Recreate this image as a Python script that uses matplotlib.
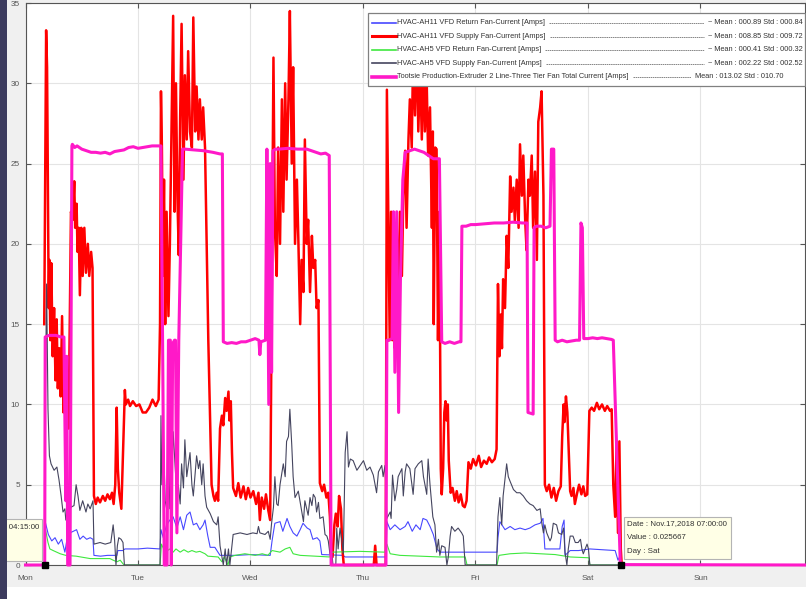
import matplotlib
matplotlib.use('Agg')
import matplotlib.pyplot as plt
from matplotlib.patches import Rectangle
from matplotlib.lines import Line2D

plt.rcParams['font.family'] = ['Liberation Sans', 'DejaVu Sans']

# ---------------- data (time in hours since Mon 00:00, value in Amps) ----------------
day_labels = ["Mon", "Tue", "Wed", "Thu", "Fri", "Sat", "Sun"]
day_ticks = [0, 24, 48, 72, 96, 120, 144]

ah11_return = [(4.2, 2.7), (4.87, 1.9), (5.6, 1.5), (6.3, 1.7), (7.0, 1.3), (7.7, 1.6), (8.4, 0.8), (8.85, 1.6),
               (9.5, 2.0), (10.2, 2.1), (10.9, 2.2), (11.6, 1.6), (12.3, 1.8), (13.05, 1.6), (13.8, 1.7), (14.4, 1.6),
               (14.6, 0.6), (16.0, 0.55), (17.5, 0.6), (19.5, 0.6), (19.7, 0.9), (20.8, 0.9), (21.2, 1.0), (24.0, 1.0),
               (26.0, 1.05), (28.7, 1.0), (28.9, 2.2), (29.4, 1.7), (30.1, 2.5), (30.8, 2.8), (31.5, 3.0), (32.3, 2.3),
               (33.0, 3.0), (33.7, 2.2), (34.4, 3.1), (35.1, 3.3), (35.8, 2.5), (36.5, 2.6), (37.2, 2.2), (37.9, 2.5),
               (38.3, 2.8), (38.9, 1.8), (39.4, 1.1), (40.4, 1.1), (41.5, 0.6), (45.0, 0.6), (48.0, 0.65), (52.2, 0.6),
               (52.6, 1.5), (53.2, 2.6), (54.3, 2.7), (54.9, 2.1), (55.8, 2.9), (56.4, 2.4), (57.1, 2.0), (57.9, 1.8),
               (58.6, 2.2), (59.2, 2.6), (60.1, 2.3), (60.7, 2.2), (61.3, 1.6), (62.2, 1.7), (62.8, 1.5), (63.2, 0.65),
               (67.7, 0.6), (68.2, 0.5), (76.9, 0.5), (77.1, 2.7), (77.8, 2.2), (78.8, 2.5), (79.9, 2.2), (81.0, 2.4),
               (81.6, 2.7), (82.5, 2.1), (83.3, 2.5), (84.2, 2.2), (84.8, 2.9), (85.6, 2.8), (86.3, 2.4), (87.0, 1.9),
               (87.8, 1.0), (88.4, 0.8), (94.0, 0.8), (100.6, 0.8), (100.8, 1.7), (101.2, 2.7), (102.3, 2.2),
               (103.4, 2.4), (104.4, 2.2), (105.5, 2.3), (106.6, 2.2), (107.6, 2.3), (108.7, 2.5), (109.8, 2.6),
               (110.4, 2.9), (110.8, 1.0), (114.0, 1.0), (114.5, 2.4), (114.9, 2.8), (115.1, 0.6), (116.2, 0.9),
               (118.0, 0.9), (120.4, 1.0), (125.8, 0.9), (126.4, 0.3), (126.9, 0.6), (127.2, 0.0)]

ah11_supply = [(4.0, 15), (4.4, 33.3), (4.6, 31), (4.7, 27), (4.95, 16), (5.1, 19), (5.3, 14), (5.5, 18.8), (5.8, 13),
               (6.1, 16), (6.4, 11.5), (6.65, 15.3), (6.9, 11), (7.2, 13.5), (7.5, 10.5), (7.8, 15.5), (8.1, 9.5),
               (8.4, 12), (8.6, 8.3), (8.9, 10), (9.2, 8.5), (9.5, 17), (9.7, 22), (10.1, 21.5), (10.4, 23.9),
               (10.6, 21), (10.9, 22.5), (11.1, 19.5), (11.35, 21), (11.6, 16.8), (11.9, 21), (12.2, 18), (12.55, 21),
               (12.9, 18.2), (13.3, 20), (13.6, 18), (14.0, 19.5), (14.3, 18.5), (14.6, 4.3), (15.0, 3.8), (15.4, 4.2),
               (15.9, 3.9), (16.5, 4.3), (17.0, 4.0), (17.5, 4.4), (18.0, 4.1), (18.45, 4.5), (18.8, 3.8), (19.15, 5),
               (19.45, 9.8), (19.7, 6), (20.0, 4.5), (20.45, 3.5), (20.9, 8), (21.2, 10.9), (21.4, 10), (21.9, 10.3),
               (22.3, 9.9), (22.9, 10.2), (23.6, 9.9), (24.3, 10.0), (25.0, 9.5), (25.7, 9.5), (26.4, 9.8), (27.1, 10.3),
               (27.8, 9.9), (28.4, 10.3), (28.7, 15), (28.9, 29.5), (29.1, 26), (29.3, 18), (29.55, 24), (29.8, 15),
               (30.1, 22), (30.5, 15.5), (30.8, 20), (31.2, 28), (31.5, 34.2), (31.8, 22), (32.1, 30), (32.4, 23),
               (32.7, 19.3), (33.0, 28), (33.3, 33.7), (33.7, 24), (34.0, 30.5), (34.4, 26.5), (34.7, 32), (35.1, 27),
               (35.5, 26), (35.8, 34.1), (36.2, 27), (36.5, 29.8), (36.9, 26.5), (37.2, 29), (37.6, 26.5), (37.9, 28.5),
               (38.3, 26), (38.65, 20), (39.0, 14), (39.4, 9), (39.7, 5), (40.1, 4.3), (40.4, 4.0), (40.8, 4.5),
               (41.1, 4.0), (41.5, 8.5), (41.9, 9.3), (42.2, 8.7), (42.6, 10.4), (42.9, 9.6), (43.3, 10.8), (43.5, 9.0),
               (43.8, 10.2), (44.05, 7), (44.3, 4.8), (44.9, 4.3), (45.4, 5.1), (45.9, 4.2), (46.5, 4.9), (47.0, 4.1),
               (47.5, 4.8), (48.0, 4.2), (48.6, 4.6), (49.2, 3.8), (49.7, 4.5), (50.0, 2.8), (50.4, 4.2), (50.9, 3.5),
               (51.3, 4.4), (51.8, 3.4), (52.2, 2.8), (52.5, 15), (52.9, 31.6), (53.2, 21), (53.6, 18), (53.9, 26),
               (54.3, 20), (54.7, 29), (55.0, 22), (55.4, 30), (55.7, 24), (56.1, 29), (56.4, 34.5), (56.8, 25),
               (57.1, 31), (57.5, 20), (57.9, 24), (58.2, 20.4), (58.6, 15), (58.9, 19), (59.3, 17), (59.6, 26.5),
               (60.0, 20), (60.3, 21.5), (60.7, 17), (61.1, 20.5), (61.4, 18.5), (61.8, 19), (62.1, 16), (62.5, 16.5),
               (62.8, 5.1), (63.3, 4.6), (63.7, 5), (64.2, 4.2), (64.6, 4.5), (64.95, 3), (65.2, 0.5), (65.5, 0.5),
               (65.9, 2.5), (66.2, 3.2), (66.6, 2.4), (66.9, 4.3), (67.3, 3.5), (67.6, 1), (67.9, 0), (74.3, 0),
               (74.6, 1.2), (74.9, 0), (76.85, 0), (77.1, 29.6), (77.4, 22), (77.7, 14), (78.0, 22), (78.25, 14),
               (78.6, 18), (78.8, 13.5), (79.2, 21), (79.5, 16), (79.9, 22), (80.3, 18), (80.6, 23), (81.0, 25.8),
               (81.3, 21), (81.7, 26.5), (82.0, 29), (82.4, 26), (82.7, 32), (83.1, 28), (83.5, 33), (83.8, 27),
               (84.2, 31), (84.55, 26.5), (84.9, 32), (85.2, 27), (85.6, 30), (85.9, 25.5), (86.3, 28.5), (86.7, 21),
               (86.9, 27), (87.1, 15), (87.4, 26), (87.7, 25.9), (88.0, 14), (88.3, 22), (88.6, 6), (88.8, 4.4),
               (89.1, 6), (89.35, 9.5), (89.6, 10.2), (89.85, 9.0), (90.1, 10.0), (90.3, 6.5), (90.7, 4.5), (91.1, 4.8),
               (91.6, 4.0), (92.0, 4.6), (92.4, 3.9), (92.85, 4.4), (93.3, 3.7), (93.7, 3.6), (94.1, 4.0), (94.5, 6.4),
               (95.0, 6.0), (95.5, 6.6), (96.1, 6.2), (96.7, 6.8), (97.2, 6.1), (97.8, 6.5), (98.4, 6.3), (98.9, 6.7),
               (99.5, 6.4), (100.1, 6.6), (100.5, 7.2), (100.8, 17.5), (101.1, 13), (101.4, 15.6), (101.65, 13.5),
               (101.9, 17.8), (102.3, 16), (102.65, 20.5), (103.0, 18.5), (103.4, 24.2), (103.7, 22), (104.1, 23.5),
               (104.4, 21.4), (104.8, 24), (105.2, 21), (105.5, 26.2), (105.9, 23), (106.2, 25.5), (106.6, 21.5),
               (106.9, 19.6), (107.3, 24), (107.6, 23), (108.0, 25.5), (108.3, 21), (108.7, 24.5), (109.1, 19),
               (109.4, 27.6), (109.8, 28.5), (110.1, 29.5), (110.5, 23), (110.8, 5), (111.2, 4.6), (111.7, 5.0),
               (112.2, 4.2), (112.7, 4.8), (113.2, 4.0), (113.7, 4.6), (114.2, 4.9), (114.5, 8), (114.8, 10),
               (115.0, 8.9), (115.3, 10.5), (115.6, 9.5), (115.9, 7), (116.2, 4.6), (116.5, 4.3), (116.9, 4.8),
               (117.2, 3.8), (117.7, 4.5), (118.1, 5.0), (118.6, 4.4), (119.0, 4.9), (119.4, 4.3), (119.85, 4.4),
               (120.3, 9.6), (120.8, 9.8), (121.3, 9.6), (121.9, 10.1), (122.4, 9.7), (123.0, 10.0), (123.6, 9.6),
               (124.1, 9.9), (124.7, 9.6), (125.05, 9.7), (125.4, 5), (125.8, 3), (126.1, 7.5), (126.4, 2),
               (126.7, 7.7), (127.0, 1), (127.2, 0)]

ah5_return = [(4.2, 2.3), (4.8, 1.4), (5.2, 1.0), (5.9, 0.9), (7.4, 0.7), (8.6, 0.6), (10.8, 0.55), (13.8, 0.4),
              (18.0, 0.4), (18.7, 0.3), (19.5, 0.2), (20.2, 0.3), (21.0, 0.0), (28.7, 0.0), (29.0, 1.3), (29.8, 0.8),
              (30.8, 1.0), (31.5, 0.8), (32.1, 1.0), (33.0, 0.8), (33.8, 0.95), (34.7, 0.8), (35.5, 0.9), (36.4, 0.8),
              (37.2, 0.85), (38.3, 0.7), (38.9, 0.55), (41.1, 0.5), (41.9, 0.2), (42.4, 0.5), (43.2, 0.0), (43.6, 0.5),
              (44.7, 0.6), (46.8, 0.7), (49.0, 0.6), (50.5, 0.7), (51.7, 0.6), (52.6, 0.9), (54.3, 0.8), (55.4, 1.0),
              (56.4, 1.1), (57.1, 0.7), (58.6, 0.6), (61.8, 0.55), (64.9, 0.5), (65.4, 0.8), (71.3, 0.85), (76.7, 0.8),
              (77.1, 1.3), (77.8, 0.7), (79.9, 0.6), (84.2, 0.55), (88.4, 0.5), (93.8, 0.5), (94.2, 0.0), (100.6, 0.0),
              (101.0, 0.6), (103.4, 0.7), (106.6, 0.75), (109.8, 0.7), (113.0, 0.65), (116.2, 0.5), (120.2, 0.45),
              (120.4, 0.0), (127.2, 0.0)]

ah5_supply = [(4.05, 5), (4.5, 17.5), (4.7, 12), (4.8, 9.7), (5.1, 6.8), (5.45, 6.3), (6.1, 5.9), (6.7, 6.1),
              (7.15, 5.3), (7.6, 4.3), (8.0, 3.3), (8.4, 3.5), (8.6, 2.8), (9.1, 3.2), (9.7, 3.6), (10.35, 3.7),
              (10.8, 5.0), (11.2, 4.3), (11.6, 3.4), (12.2, 4.0), (12.9, 3.3), (13.3, 3.8), (13.8, 3.5), (14.4, 4.0),
              (14.6, 1.3), (15.9, 1.4), (17.0, 1.3), (18.2, 1.4), (18.7, 2.5), (19.0, 1.6), (19.3, 0), (19.6, 1.2),
              (19.9, 1.7), (20.4, 1.6), (20.8, 1.4), (21.1, 0), (28.7, 0), (28.9, 9.3), (29.1, 5), (29.4, 8.1),
              (29.8, 4), (30.1, 3.5), (30.5, 7.3), (30.8, 3.5), (31.2, 5.4), (31.5, 8.3), (32.25, 4.5), (32.6, 5),
              (33.0, 3.8), (33.3, 6.3), (33.7, 4.8), (34.0, 7.8), (34.4, 5.5), (35.1, 7), (35.5, 5), (35.8, 4.3),
              (36.5, 6.8), (36.9, 6), (37.2, 6.5), (37.6, 5), (37.9, 6.3), (38.3, 4.3), (38.65, 3.6), (39.4, 3.2),
              (40.1, 2.7), (40.8, 2.5), (41.1, 3.0), (41.5, 1.2), (41.9, 0.5), (42.2, 0), (42.6, 1.0), (42.9, 0),
              (43.3, 1.0), (43.6, 0), (44.3, 1.9), (45.8, 2.0), (47.25, 1.9), (48.5, 2.0), (49.4, 1.95), (49.7, 2.4),
              (50.0, 2.0), (51.1, 1.9), (51.8, 2.1), (52.2, 1.6), (52.5, 2.6), (52.9, 3.6), (53.2, 5.5), (53.6, 3.8),
              (53.9, 3.7), (54.3, 5), (55.0, 6.3), (55.4, 5.5), (55.7, 7.7), (56.1, 8), (56.4, 9.7), (56.8, 7.5),
              (57.1, 5.5), (57.5, 4.2), (58.2, 4.6), (58.9, 3.4), (59.3, 2.7), (59.6, 4.0), (60.3, 3.1), (60.7, 4.2),
              (61.1, 3.7), (61.4, 4.4), (61.8, 4.2), (62.1, 3.3), (62.5, 3.9), (62.8, 2.9), (63.5, 3.0), (63.9, 1.9),
              (64.3, 1.8), (64.6, 1.5), (64.95, 0.7), (65.4, 0.6), (65.6, 0), (66.2, 0), (66.4, 2.3), (66.7, 1.0),
              (67.1, 2.3), (67.5, 1.5), (67.8, 0.7), (68.2, 7.0), (68.6, 8.3), (68.9, 6.1), (69.3, 6.6), (69.9, 6.5),
              (70.7, 5.9), (71.4, 6.2), (72.1, 6.5), (72.8, 5.9), (73.5, 6.1), (74.2, 5.6), (74.9, 4.5), (75.3, 5.8),
              (76.0, 6.2), (76.3, 5.5), (76.7, 6.2), (77.1, 2.9), (77.8, 3.3), (78.0, 2.9), (78.3, 5.6), (78.8, 4.0),
              (79.2, 4.7), (79.5, 5.5), (80.3, 6.0), (80.6, 4.3), (81.0, 5.8), (81.3, 6.3), (82.0, 6.0), (82.7, 4.4),
              (83.1, 6.0), (83.8, 6.3), (84.55, 6.5), (84.9, 5.5), (85.6, 4.4), (85.9, 6.6), (86.3, 5.0), (86.9, 3.0),
              (87.35, 2.5), (87.7, 0.8), (88.1, 1.6), (88.4, 0.6), (88.8, 1.2), (89.5, 1.1), (89.9, 0), (90.2, 0.5),
              (90.6, 1.8), (90.9, 2.4), (91.6, 2.1), (92.3, 2.3), (93.05, 2.0), (93.4, 1.8), (93.8, 0.0), (100.5, 0.0),
              (100.8, 3.0), (101.2, 4.2), (101.6, 2.5), (101.9, 4.3), (102.65, 6.3), (103.0, 5.5), (103.4, 5.2),
              (104.1, 4.7), (104.8, 4.5), (105.5, 4.5), (106.2, 4.3), (106.9, 4.0), (107.6, 3.8), (108.3, 3.7),
              (109.1, 3.4), (109.8, 3.5), (110.1, 2.7), (110.5, 2.0), (110.8, 2.5), (111.2, 2.0), (111.9, 1.5),
              (112.2, 1.7), (112.6, 2.6), (113.3, 2.5), (113.7, 2.0), (114.4, 1.9), (114.8, 2.3), (115.1, 0.8),
              (115.5, 0.0), (115.8, 1.0), (116.2, 1.8), (116.8, 1.8), (117.3, 1.4), (117.9, 1.4), (118.4, 1.6),
              (118.7, 1.0), (119.0, 0.7), (119.4, 1.0), (119.8, 1.3), (120.1, 1.0), (120.4, 0), (127.2, 0)]

extruder_total = [(0, 0), (4.1, 0), (4.2, 14.2), (5.0, 14.3), (6.5, 14.3), (7.5, 14.2), (8.2, 14.2), (8.6, 4),
                  (8.8, 13), (9.0, 0), (9.5, 0), (9.9, 26.1), (10.0, 26.2), (10.5, 26.0), (11, 26.1), (12, 25.9),
                  (13, 25.8), (14, 25.7), (15, 25.7), (16, 25.65), (17, 25.7), (18, 25.6), (19, 25.75), (20, 25.8),
                  (21, 25.85), (22, 26.0), (23, 26.05), (24, 25.95), (25, 26.0), (26, 26.05), (27, 26.1), (28, 26.1),
                  (28.9, 26.1), (29.3, 12), (29.6, 0), (30.2, 0), (30.5, 14), (30.9, 14), (31.1, 0), (31.4, 13.8),
                  (31.8, 14), (32.0, 14), (32.3, 2), (32.7, 14), (33.5, 25.9), (34, 25.9), (36, 25.85), (38, 25.8),
                  (40, 25.7), (41.5, 25.6), (42.0, 25.6), (42.2, 13.9), (43, 13.8), (44, 13.85), (45, 13.8),
                  (46, 13.9), (47, 13.9), (48, 14.0), (49, 14.1), (49.8, 14.0), (50.0, 13.1), (50.2, 13.9),
                  (51.2, 14.0), (51.5, 25.9), (51.9, 10), (52.2, 25), (52.5, 12), (52.8, 25.8), (53.3, 25.9),
                  (54, 25.9), (56, 25.95), (58, 25.9), (60, 25.9), (61, 25.8), (62, 25.7), (63, 25.6), (64, 25.65),
                  (64.8, 25.5), (65.2, 0), (76.9, 0), (77.1, 14), (77.5, 14.0), (78.2, 14.1), (78.5, 22), (78.8, 12),
                  (79.2, 22), (79.6, 9.5), (80.0, 18), (80.5, 24), (81.0, 25.7), (82, 25.8), (83, 25.9), (84, 25.8),
                  (85, 25.7), (86, 25.5), (87, 25.3), (88.3, 25.3), (88.8, 13.9), (89.5, 13.8), (90.5, 13.9),
                  (91.5, 13.8), (92.5, 13.9), (92.9, 13.9), (93.1, 21.1), (94, 21.1), (95, 21.2), (96, 21.2),
                  (98, 21.25), (100, 21.3), (102, 21.3), (104, 21.35), (106, 21.3), (107.0, 21.3), (107.2, 9.5),
                  (108.3, 9.4), (108.5, 21.0), (109, 21.1), (110, 21.1), (111, 21.0), (111.9, 21.1), (112.2, 25.9),
                  (112.7, 25.9), (113.0, 14.0), (113.5, 13.9), (114.5, 14.0), (115.5, 13.9), (116.5, 13.95),
                  (117.5, 14.0), (118.2, 14.0), (118.5, 21.3), (118.8, 21.0), (119.1, 14.1), (120, 14.1),
                  (121, 14.15), (122, 14.1), (123, 14.15), (124, 14.1), (125, 14.05), (125.4, 14.0), (126.9, 0.03),
                  (127.0, 0.025667), (166.3, 0)]

series = [ah11_return, ah11_supply, ah5_return, ah5_supply, extruder_total]
series_names = ["HVAC-AH11 VFD Return Fan-Current [Amps]",
                "HVAC-AH11 VFD Supply Fan-Current [Amps]",
                "HVAC-AH5 VFD Return Fan-Current [Amps]",
                "HVAC-AH5 VFD Supply Fan-Current [Amps]",
                "Tootsie Production-Extruder 2 Line-Three Tier Fan Total Current [Amps]"]
series_stats = ["~ Mean : 000.89 Std : 000.84",
                "~ Mean : 008.85 Std : 009.72",
                "~ Mean : 000.41 Std : 000.32",
                "~ Mean : 002.22 Std : 002.52",
                "Mean : 013.02 Std : 010.70"]
series_colors = ["#4848ff", "#ff0000", "#3ee83e", "#45455f", "#ff19c8"]
series_lw = [0.8, 1.8, 0.8, 0.8, 2.2]

tip_left_text = "Date : Nov.12,2018 04:15:00\nValue : 0\nDay : Mon"
tip_left_point = (4.25, 0.0)
tip_right_text = "Date : Nov.17,2018 07:00:00\nValue : 0.025667\nDay : Sat"
tip_right_point = (127.0, 0.025667)

# ---------------- figure ----------------
W, H = 806, 599
fig = plt.figure(figsize=(W / 100, H / 100), dpi=100, facecolor='#f0f0f0')
ax = fig.add_axes([25.5 / W, (H - 565) / H, (805 - 25.5) / W, (565 - 3) / H])
ax.set_facecolor('white')


def fx(px):
    return px / W


def fy(py):
    return 1 - py / H


for i, (data, c, lw) in enumerate(zip(series, series_colors, series_lw)):
    t = [p[0] for p in data]
    v = [p[1] for p in data]
    ax.plot(t, v, color=c, lw=lw, zorder=2 + i * 0.1 + (1 if i == 4 else 0), clip_on=False)

ax.set_xlim(0, 166.3)
ax.set_ylim(0, 35)
ax.set_xticks(day_ticks)
ax.set_xticklabels(day_labels)
ax.set_yticks(range(0, 36, 5))
ax.tick_params(direction='in', length=3.6, width=0.8, color='#555555', labelcolor='#555555',
               labelsize=5.9, top=True, right=True)
ax.tick_params(axis='x', pad=7.5)
ax.tick_params(axis='y', pad=4)
ax.grid(True, color='#e4e4e4', lw=0.8)
ax.set_axisbelow(True)
for s in ax.spines.values():
    s.set_color('#555555')
    s.set_linewidth(0.8)

# datatips
for pt in (tip_left_point, tip_right_point):
    ax.plot([pt[0]], [pt[1]], 's', color='black', ms=5, clip_on=False, zorder=6)

tip_fs = 5.7
pad_px = 0.45 * tip_fs * 100 / 72
ax.annotate(tip_right_text, xy=tip_right_point, xytext=(3 + pad_px, 6 + pad_px), textcoords='offset pixels',
            ha='left', va='bottom', fontsize=tip_fs, linespacing=2.35, color='#333333',
            bbox=dict(boxstyle='square,pad=0.45', fc='#ffffe6', ec='#b4b4b4', lw=0.8),
            annotation_clip=False, zorder=7)
ax.annotate(tip_left_text, xy=tip_left_point, xytext=(-3 - pad_px, 4 + pad_px), textcoords='offset pixels',
            ha='right', va='bottom', multialignment='left', fontsize=tip_fs, linespacing=2.35, color='#333333',
            bbox=dict(boxstyle='square,pad=0.45', fc='#ffffe6', ec='#b4b4b4', lw=0.8),
            annotation_clip=False, zorder=7)

# frame decorations
fig.add_artist(Rectangle((0, 0), 1, 12 / H, transform=fig.transFigure, fc='white', ec='none', zorder=1))
fig.add_artist(Rectangle((0, 0), 7 / W, 1, transform=fig.transFigure, fc='#3c3b5e', ec='none', zorder=1))

# legend
fig.add_artist(Rectangle((fx(368), fy(86)), fx(805) - fx(368), fy(13) - fy(86), transform=fig.transFigure,
                         fc='white', ec='#808080', lw=0.9, zorder=5))
row_y = [22.7 + 13.5 * i for i in range(5)]
name_texts, stat_texts = [], []
for i in range(5):
    y = fy(row_y[i])
    fig.add_artist(Line2D([fx(372), fx(396)], [y, y], transform=fig.transFigure, color=series_colors[i],
                          lw=series_lw[i] + 0.4, zorder=6))
    name_texts.append(fig.text(fx(397), y, series_names[i], ha='left', va='center', fontsize=5.3,
                               color='#333333', zorder=6))
    if i < 4:
        stat_texts.append(fig.text(fx(803), y, series_stats[i], ha='right', va='center', fontsize=5.3,
                                   color='#333333', zorder=6))
    else:
        stat_texts.append(fig.text(fx(695), y, series_stats[i], ha='left', va='center', fontsize=5.3,
                                   color='#333333', zorder=6))

fig.canvas.draw()
renderer = fig.canvas.get_renderer()
for i in range(5):
    b1 = name_texts[i].get_window_extent(renderer)
    b2 = stat_texts[i].get_window_extent(renderer)
    y = fy(row_y[i]) - 0.3 / H
    fig.add_artist(Line2D([(b1.x1 + 4) / W, (b2.x0 - 4) / W], [y, y], transform=fig.transFigure,
                          color='#555555', lw=0.5, dashes=(2.2, 0.9), zorder=6))

fig.savefig('out.png', dpi=100, facecolor=fig.get_facecolor())
